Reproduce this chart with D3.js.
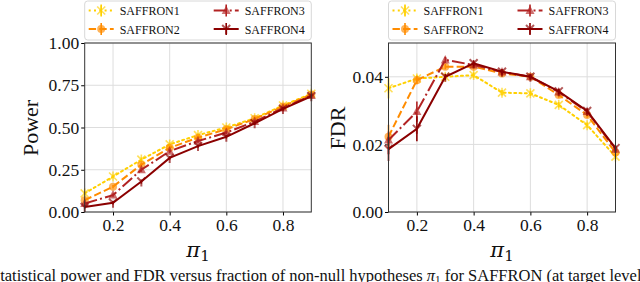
<!DOCTYPE html>
<html lang="en">
<head>
<meta charset="UTF-8">
<title>SAFFRON power and FDR</title>
<script src="https://d3js.org/d3.v7.min.js"></script>
<style>
  body { margin: 0; background: #fff; }
  svg text { font-family: "Liberation Serif", "Times New Roman", serif; fill: #111; }
  .grid line { stroke: #ddd; stroke-width: 1; }
  .tick text { font-size: 17.5px; font-family: "Liberation Serif", serif; }
</style>
</head>
<body>
<svg width="640" height="282"></svg>
<script>
// x values: fraction of non-null hypotheses
const pi1 = [0.1, 0.2, 0.3, 0.4, 0.5, 0.6, 0.7, 0.8, 0.9];
const names = ["SAFFRON1", "SAFFRON2", "SAFFRON3", "SAFFRON4"];

// power
const power1 = [0.11, 0.21, 0.31, 0.40, 0.455, 0.50, 0.555, 0.63, 0.70];
const power2 = [0.07, 0.15, 0.28, 0.38, 0.44, 0.49, 0.55, 0.625, 0.695];
const power3 = [0.05, 0.10, 0.25, 0.36, 0.42, 0.47, 0.535, 0.615, 0.69];
const power4 = [0.03, 0.055, 0.18, 0.32, 0.39, 0.445, 0.525, 0.61, 0.685];
const powerErr = [0.01, 0.01, 0.012, 0.01, 0.01, 0.01, 0.01, 0.01, 0.01];

// FDR
const fdr1 = [0.0366, 0.0395, 0.0400, 0.0405, 0.0353, 0.0351, 0.0317, 0.0257, 0.0164];
const fdr2 = [0.0223, 0.0390, 0.0430, 0.0430, 0.0410, 0.0400, 0.0346, 0.0287, 0.0176];
const fdr3 = [0.0213, 0.0297, 0.0450, 0.0435, 0.0414, 0.0400, 0.0355, 0.0297, 0.0186];
const fdr4 = [0.0186, 0.0246, 0.0400, 0.0440, 0.0415, 0.0400, 0.0357, 0.0299, 0.0189];
const fdrErr1 = [0.003, 0.001, 0.0008, 0.0008, 0.0008, 0.0008, 0.0008, 0.0008, 0.0008];
const fdrErr2 = [0.0035, 0.0012, 0.0008, 0.0008, 0.0008, 0.0008, 0.0008, 0.0008, 0.0008];
const fdrErr3 = [0.0025, 0.003, 0.0009, 0.0008, 0.0008, 0.0008, 0.0008, 0.0008, 0.0008];
const fdrErr4 = [0.0035, 0.0037, 0.0009, 0.0009, 0.0008, 0.0008, 0.0008, 0.0008, 0.0008];

const xTicks = [0.2, 0.4, 0.6, 0.8];
const powerTicks = [0, 0.25, 0.5, 0.75, 1];
const fdrTicks = [0, 0.02, 0.04];

const colors = ["#ffd000", "#ff8c00", "#b22222", "#8b0000"];
const dashes = ["2,3.3", "7.4,3.2", "12.8,3.2,2,3.2", null];
const markers = ["x", "o", "^", "tri"];

const svg = d3.select("svg");

function marker(g, type, x, y, color) {
  const s = 4;
  const m = g.append("g").attr("transform", `translate(${x},${y})`).attr("opacity", 0.65);
  if (type === "x") {
    m.append("path").attr("d", `M${-s},${-s}L${s},${s}M${-s},${s}L${s},${-s}M0,${-s - 1}L0,${s + 1}`)
      .attr("stroke", color).attr("stroke-width", 1.6).attr("fill", "none");
  } else if (type === "o") {
    m.append("circle").attr("r", s).attr("fill", color);
  } else if (type === "^") {
    m.append("path").attr("d", `M0,${-s - 1}L${s + 0.5},${s - 0.5}L${-s - 0.5},${s - 0.5}Z`).attr("fill", color);
  } else {
    m.append("path").attr("d", `M0,0L0,${-s - 1}M0,0L${s},${s}M0,0L${-s},${s}`)
      .attr("transform", "rotate(180)")
      .attr("stroke", color).attr("stroke-width", 2).attr("fill", "none");
  }
}

function panel(opt) {
  const x = d3.scaleLinear().domain([0.1, 0.9]).range([opt.left, opt.right]);
  const y = d3.scaleLinear().domain(opt.ydom).range([212, 43]);
  const g = svg.append("g");

  // grid
  const grid = g.append("g").attr("class", "grid");
  grid.selectAll(".gx").data(xTicks).join("line")
    .attr("x1", d => x(d)).attr("x2", d => x(d)).attr("y1", 43).attr("y2", 212);
  grid.selectAll(".gy").data(opt.yticks).join("line")
    .attr("x1", opt.left).attr("x2", opt.right).attr("y1", d => y(d)).attr("y2", d => y(d));

  // axes
  g.append("g").attr("transform", "translate(0,212)")
    .call(d3.axisBottom(x).tickValues(xTicks).tickFormat(d3.format(".1f")).tickSize(3.5).tickPadding(3))
    .attr("font-family", "Liberation Serif").attr("font-size", 17.5)
    .call(a => a.select(".domain").remove());
  g.append("g").attr("transform", `translate(${opt.left},0)`)
    .call(d3.axisLeft(y).tickValues(opt.yticks).tickFormat(d3.format(".2f")).tickSize(3.5).tickPadding(2))
    .attr("font-family", "Liberation Serif").attr("font-size", 17.5)
    .call(a => a.select(".domain").remove());

  // series
  opt.series.forEach((vals, i) => {
    const err = opt.errs[i];
    const line = d3.line().x((d, j) => x(pi1[j])).y(d => y(d));
    g.append("path").datum(vals).attr("d", line)
      .attr("fill", "none").attr("stroke", colors[i]).attr("stroke-width", 2)
      .attr("stroke-dasharray", dashes[i]).attr("stroke-linecap", i === 0 ? "round" : "butt");
    g.selectAll(null).data(vals).join("line")
      .attr("x1", (d, j) => x(pi1[j])).attr("x2", (d, j) => x(pi1[j]))
      .attr("y1", (d, j) => y(d - err[j])).attr("y2", (d, j) => y(d + err[j]))
      .attr("stroke", colors[i]).attr("stroke-width", 1.6);
    vals.forEach((d, j) => marker(g, markers[i], x(pi1[j]), y(d), colors[i]));
  });

  // frame
  g.append("rect").attr("x", opt.left).attr("y", 43)
    .attr("width", opt.right - opt.left).attr("height", 169)
    .attr("fill", "none").attr("stroke", "#333").attr("stroke-width", 1);

  // labels
  g.append("text").attr("transform", `translate(${opt.ylabX},128) rotate(-90)`)
    .attr("text-anchor", "middle").attr("font-size", 22).text(opt.ylabel);
  const xl = g.append("text").attr("x", (opt.left + opt.right) / 2).attr("y", 257)
    .attr("text-anchor", "middle").style("font-family", "DejaVu Serif").attr("font-size", 21);
  xl.append("tspan").attr("font-style", "italic").text("π");
  xl.append("tspan").attr("font-size", 15).attr("dy", 4).text("1");

  // legend
  const lx = opt.left;
  const lg = g.append("g");
  lg.append("rect").attr("x", lx).attr("y", 1).attr("width", opt.right - opt.left).attr("height", 39)
    .attr("rx", 3).attr("fill", "#fff").attr("fill-opacity", 0.8).attr("stroke", "#d8d8d8");
  names.forEach((n, i) => {
    const cx = lx + 4 + (i >= 2 ? 125 : 0);
    const cy = i % 2 === 0 ? 10.5 : 29;
    lg.append("line").attr("x1", cx).attr("x2", cx + 25).attr("y1", cy).attr("y2", cy)
      .attr("stroke", colors[i]).attr("stroke-width", 2).attr("stroke-dasharray", dashes[i]);
    lg.append("line").attr("x1", cx + 12.5).attr("x2", cx + 12.5).attr("y1", cy - 6).attr("y2", cy + 6)
      .attr("stroke", colors[i]).attr("stroke-width", 1.6);
    marker(lg, markers[i], cx + 12.5, cy, colors[i]);
    lg.append("text").attr("x", cx + 31).attr("y", cy + 4.5).attr("font-size", 12).text(n);
  });
}

panel({ left: 84.7, right: 311.3, ydom: [0, 1], yticks: powerTicks, ylabel: "Power", ylabX: 38,
        series: [power1, power2, power3, power4], errs: [powerErr, powerErr, powerErr, powerErr] });
panel({ left: 388.5, right: 615.5, ydom: [0, 0.05], yticks: fdrTicks, ylabel: "FDR", ylabX: 345,
        series: [fdr1, fdr2, fdr3, fdr4], errs: [fdrErr1, fdrErr2, fdrErr3, fdrErr4] });

// caption, running past the window edges as in the source figure
const cap = svg.append("text").attr("x", -9).attr("y", 281).attr("font-size", 16.5);
cap.append("tspan").text("Statistical power and FDR versus fraction of non-null hypotheses ");
cap.append("tspan").attr("font-style", "italic").text("π");
cap.append("tspan").attr("font-size", 11).attr("dy", 2).text("1");
cap.append("tspan").attr("dy", -2).text(" for SAFFRON (at target level α = 0.05)");
</script>
</body>
</html>
